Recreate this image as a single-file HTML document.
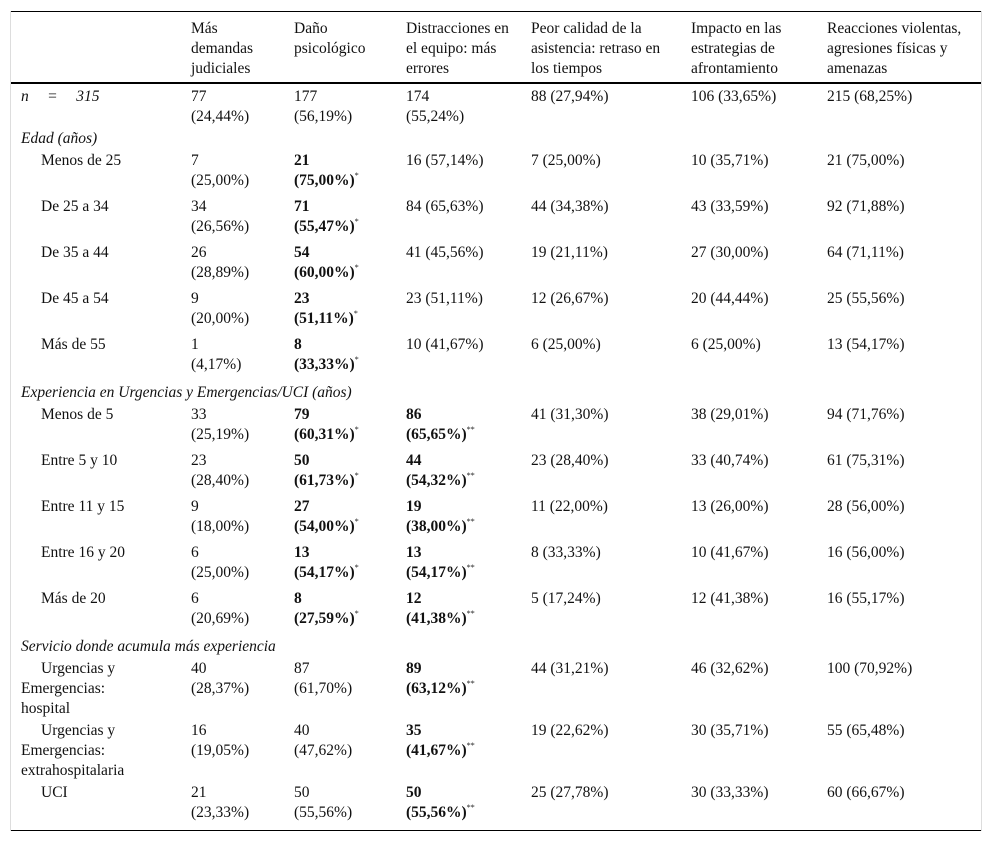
<!DOCTYPE html>
<html><head><meta charset="utf-8"><style>
body{margin:0;background:#fff;width:992px;height:843px;position:relative;overflow:hidden;font-family:"Liberation Serif",serif;font-size:15.5px;color:#111}
.c{position:absolute;line-height:20px;white-space:nowrap;margin-top:2px}
.h{position:absolute;background:#000;left:11px;width:970px}
.v{position:absolute;background:#ddd;width:1px;top:11px;height:820px}
sup{font-size:8px;line-height:0;vertical-align:7px;font-weight:normal}
i{font-style:italic}
.in{padding-left:20px}
</style></head><body>
<div class="v" style="left:10px"></div><div class="v" style="left:981px"></div>
<div class="h" style="top:11px;height:1px"></div>
<div class="h" style="top:82px;height:2px"></div>
<div class="h" style="top:830px;height:1px"></div>

<div class="c" style="left:191px;top:17px">Más<br>demandas<br>judiciales</div>
<div class="c" style="left:294px;top:17px">Daño<br>psicológico</div>
<div class="c" style="left:406px;top:17px">Distracciones en<br>el equipo: más<br>errores</div>
<div class="c" style="left:531px;top:17px">Peor calidad de la<br>asistencia: retraso en<br>los tiempos</div>
<div class="c" style="left:691px;top:17px">Impacto en las<br>estrategias de<br>afrontamiento</div>
<div class="c" style="left:827px;top:17px">Reacciones violentas,<br>agresiones físicas y<br>amenazas</div>

<div class="c" style="left:21px;top:85px"><i>n</i>&nbsp;&nbsp;&nbsp;&nbsp;&nbsp;=&nbsp;&nbsp;&nbsp;&nbsp;&nbsp;<i>315</i></div>
<div class="c" style="left:191px;top:85px">77<br>(24,44%)</div>
<div class="c" style="left:294px;top:85px">177<br>(56,19%)</div>
<div class="c" style="left:406px;top:85px">174<br>(55,24%)</div>
<div class="c" style="left:531px;top:85px">88 (27,94%)</div>
<div class="c" style="left:691px;top:85px">106 (33,65%)</div>
<div class="c" style="left:827px;top:85px">215 (68,25%)</div>

<div class="c" style="left:21px;top:127px"><i>Edad (años)</i></div>

<div class="c" style="left:41px;top:149px">Menos de 25</div>
<div class="c" style="left:191px;top:149px">7<br>(25,00%)</div>
<div class="c" style="left:294px;top:149px"><b>21<br>(75,00%)</b><sup>*</sup></div>
<div class="c" style="left:406px;top:149px">16 (57,14%)</div>
<div class="c" style="left:531px;top:149px">7 (25,00%)</div>
<div class="c" style="left:691px;top:149px">10 (35,71%)</div>
<div class="c" style="left:827px;top:149px">21 (75,00%)</div>

<div class="c" style="left:41px;top:195px">De 25 a 34</div>
<div class="c" style="left:191px;top:195px">34<br>(26,56%)</div>
<div class="c" style="left:294px;top:195px"><b>71<br>(55,47%)</b><sup>*</sup></div>
<div class="c" style="left:406px;top:195px">84 (65,63%)</div>
<div class="c" style="left:531px;top:195px">44 (34,38%)</div>
<div class="c" style="left:691px;top:195px">43 (33,59%)</div>
<div class="c" style="left:827px;top:195px">92 (71,88%)</div>

<div class="c" style="left:41px;top:241px">De 35 a 44</div>
<div class="c" style="left:191px;top:241px">26<br>(28,89%)</div>
<div class="c" style="left:294px;top:241px"><b>54<br>(60,00%)</b><sup>*</sup></div>
<div class="c" style="left:406px;top:241px">41 (45,56%)</div>
<div class="c" style="left:531px;top:241px">19 (21,11%)</div>
<div class="c" style="left:691px;top:241px">27 (30,00%)</div>
<div class="c" style="left:827px;top:241px">64 (71,11%)</div>

<div class="c" style="left:41px;top:287px">De 45 a 54</div>
<div class="c" style="left:191px;top:287px">9<br>(20,00%)</div>
<div class="c" style="left:294px;top:287px"><b>23<br>(51,11%)</b><sup>*</sup></div>
<div class="c" style="left:406px;top:287px">23 (51,11%)</div>
<div class="c" style="left:531px;top:287px">12 (26,67%)</div>
<div class="c" style="left:691px;top:287px">20 (44,44%)</div>
<div class="c" style="left:827px;top:287px">25 (55,56%)</div>

<div class="c" style="left:41px;top:333px">Más de 55</div>
<div class="c" style="left:191px;top:333px">1<br>(4,17%)</div>
<div class="c" style="left:294px;top:333px"><b>8<br>(33,33%)</b><sup>*</sup></div>
<div class="c" style="left:406px;top:333px">10 (41,67%)</div>
<div class="c" style="left:531px;top:333px">6 (25,00%)</div>
<div class="c" style="left:691px;top:333px">6 (25,00%)</div>
<div class="c" style="left:827px;top:333px">13 (54,17%)</div>

<div class="c" style="left:21px;top:381px"><i>Experiencia en Urgencias y Emergencias/UCI (años)</i></div>

<div class="c" style="left:41px;top:403px">Menos de 5</div>
<div class="c" style="left:191px;top:403px">33<br>(25,19%)</div>
<div class="c" style="left:294px;top:403px"><b>79<br>(60,31%)</b><sup>*</sup></div>
<div class="c" style="left:406px;top:403px"><b>86<br>(65,65%)</b><sup>**</sup></div>
<div class="c" style="left:531px;top:403px">41 (31,30%)</div>
<div class="c" style="left:691px;top:403px">38 (29,01%)</div>
<div class="c" style="left:827px;top:403px">94 (71,76%)</div>

<div class="c" style="left:41px;top:449px">Entre 5 y 10</div>
<div class="c" style="left:191px;top:449px">23<br>(28,40%)</div>
<div class="c" style="left:294px;top:449px"><b>50<br>(61,73%)</b><sup>*</sup></div>
<div class="c" style="left:406px;top:449px"><b>44<br>(54,32%)</b><sup>**</sup></div>
<div class="c" style="left:531px;top:449px">23 (28,40%)</div>
<div class="c" style="left:691px;top:449px">33 (40,74%)</div>
<div class="c" style="left:827px;top:449px">61 (75,31%)</div>

<div class="c" style="left:41px;top:495px">Entre 11 y 15</div>
<div class="c" style="left:191px;top:495px">9<br>(18,00%)</div>
<div class="c" style="left:294px;top:495px"><b>27<br>(54,00%)</b><sup>*</sup></div>
<div class="c" style="left:406px;top:495px"><b>19<br>(38,00%)</b><sup>**</sup></div>
<div class="c" style="left:531px;top:495px">11 (22,00%)</div>
<div class="c" style="left:691px;top:495px">13 (26,00%)</div>
<div class="c" style="left:827px;top:495px">28 (56,00%)</div>

<div class="c" style="left:41px;top:541px">Entre 16 y 20</div>
<div class="c" style="left:191px;top:541px">6<br>(25,00%)</div>
<div class="c" style="left:294px;top:541px"><b>13<br>(54,17%)</b><sup>*</sup></div>
<div class="c" style="left:406px;top:541px"><b>13<br>(54,17%)</b><sup>**</sup></div>
<div class="c" style="left:531px;top:541px">8 (33,33%)</div>
<div class="c" style="left:691px;top:541px">10 (41,67%)</div>
<div class="c" style="left:827px;top:541px">16 (56,00%)</div>

<div class="c" style="left:41px;top:587px">Más de 20</div>
<div class="c" style="left:191px;top:587px">6<br>(20,69%)</div>
<div class="c" style="left:294px;top:587px"><b>8<br>(27,59%)</b><sup>*</sup></div>
<div class="c" style="left:406px;top:587px"><b>12<br>(41,38%)</b><sup>**</sup></div>
<div class="c" style="left:531px;top:587px">5 (17,24%)</div>
<div class="c" style="left:691px;top:587px">12 (41,38%)</div>
<div class="c" style="left:827px;top:587px">16 (55,17%)</div>

<div class="c" style="left:21px;top:635px"><i>Servicio donde acumula más experiencia</i></div>

<div class="c" style="left:21px;top:657px"><span class="in">Urgencias y</span><br>Emergencias:<br>hospital</div>
<div class="c" style="left:191px;top:657px">40<br>(28,37%)</div>
<div class="c" style="left:294px;top:657px">87<br>(61,70%)</div>
<div class="c" style="left:406px;top:657px"><b>89<br>(63,12%)</b><sup>**</sup></div>
<div class="c" style="left:531px;top:657px">44 (31,21%)</div>
<div class="c" style="left:691px;top:657px">46 (32,62%)</div>
<div class="c" style="left:827px;top:657px">100 (70,92%)</div>

<div class="c" style="left:21px;top:719px"><span class="in">Urgencias y</span><br>Emergencias:<br>extrahospitalaria</div>
<div class="c" style="left:191px;top:719px">16<br>(19,05%)</div>
<div class="c" style="left:294px;top:719px">40<br>(47,62%)</div>
<div class="c" style="left:406px;top:719px"><b>35<br>(41,67%)</b><sup>**</sup></div>
<div class="c" style="left:531px;top:719px">19 (22,62%)</div>
<div class="c" style="left:691px;top:719px">30 (35,71%)</div>
<div class="c" style="left:827px;top:719px">55 (65,48%)</div>

<div class="c" style="left:41px;top:781px">UCI</div>
<div class="c" style="left:191px;top:781px">21<br>(23,33%)</div>
<div class="c" style="left:294px;top:781px">50<br>(55,56%)</div>
<div class="c" style="left:406px;top:781px"><b>50<br>(55,56%)</b><sup>**</sup></div>
<div class="c" style="left:531px;top:781px">25 (27,78%)</div>
<div class="c" style="left:691px;top:781px">30 (33,33%)</div>
<div class="c" style="left:827px;top:781px">60 (66,67%)</div>
</body></html>
